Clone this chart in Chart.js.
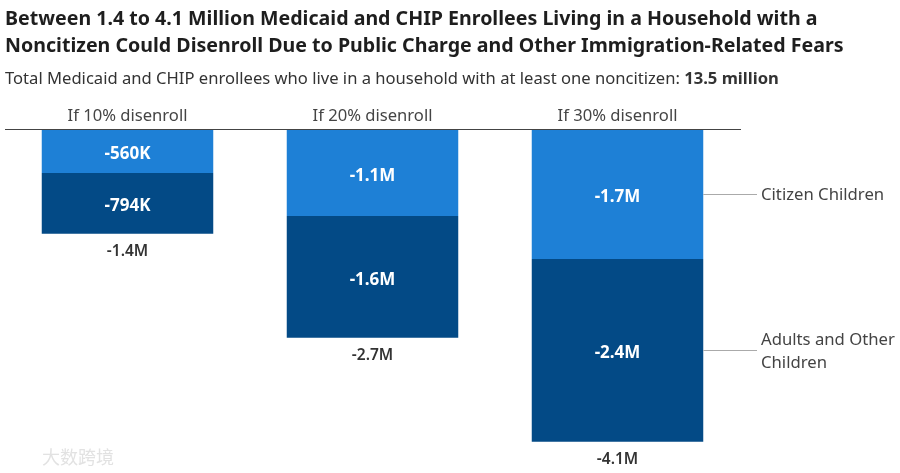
<!DOCTYPE html>
<html>
<head>
<meta charset="utf-8">
<script src="https://cdn.jsdelivr.net/npm/chart.js@4"></script>
<style>
  body { margin: 0; background: #fff; font-family: "Noto Sans", Lato, sans-serif; }
  #wrap { position: relative; width: 900px; height: 473px; }
  #chart { position: absolute; left: 0; top: 0; }
  .title { position: absolute; left: 5px; top: 4px; font-size: 19.6px; font-weight: bold; color: #1e1e1e; line-height: 27px; white-space: nowrap; }
  .sub { position: absolute; left: 5px; top: 66px; font-size: 16.6px; color: #333; white-space: nowrap; }
  .mark { position: absolute; left: 42px; top: 443px; font-family: "Noto Sans CJK SC", sans-serif; font-size: 18px; color: #e2e2e2; }
</style>
</head>
<body>
<div id="wrap">
  <canvas id="chart" width="900" height="473"></canvas>
  <div class="title">Between 1.4 to 4.1 Million Medicaid and CHIP Enrollees Living in a Household with a<br>Noncitizen Could Disenroll Due to Public Charge and Other Immigration-Related Fears</div>
  <div class="sub">Total Medicaid and CHIP enrollees who live in a household with at least one noncitizen: <b>13.5 million</b></div>
  <div class="mark">大数跨境</div>
</div>
<script>
// values in thousands of enrollees
let categories = ['If 10% disenroll', 'If 20% disenroll', 'If 30% disenroll'];
let citizenChildren = [-560, -1120, -1680];
let adultsOther = [-794, -1588, -2382];
let citizenLabels = ['-560K', '-1.1M', '-1.7M'];
let adultsLabels = ['-794K', '-1.6M', '-2.4M'];
let totalLabels = ['-1.4M', '-2.7M', '-4.1M'];
let seriesNames = [['Citizen Children'], ['Adults and Other', 'Children']];

let fontFamily = '"Noto Sans", Lato, sans-serif';
let ctx = document.getElementById('chart');

let labelPlugin = {
	id: 'barLabels',
	afterDatasetsDraw(chart) {
		let c = chart.ctx;
		let top = chart.getDatasetMeta(0);
		let bottom = chart.getDatasetMeta(1);
		c.save();
		c.textAlign = 'center';
		c.textBaseline = 'middle';
		c.fillStyle = '#fff';
		c.font = 'bold 17px ' + fontFamily;
		top.data.forEach((bar, i) => {
			c.fillText(citizenLabels[i], bar.x, (bar.y + bar.base) / 2 + 3);
		});
		bottom.data.forEach((bar, i) => {
			c.fillText(adultsLabels[i], bar.x, (bar.y + bar.base) / 2 + 3);
		});
		c.fillStyle = '#333';
		c.font = '600 15.5px ' + fontFamily;
		bottom.data.forEach((bar, i) => {
			c.fillText(totalLabels[i], bar.x, bar.y + 18);
		});

		// series names on the right, tied to the last bar
		c.textAlign = 'left';
		c.font = '16.7px ' + fontFamily;
		c.fillStyle = '#444';
		c.strokeStyle = '#aaa';
		c.lineWidth = 1;
		[top, bottom].forEach((meta, k) => {
			let bar = meta.data[meta.data.length - 1];
			let midY = Math.round((bar.y + bar.base) / 2) + 0.5;
			let x0 = bar.x + bar.width / 2;
			c.beginPath();
			c.moveTo(x0, midY);
			c.lineTo(757, midY);
			c.stroke();
			let lines = seriesNames[k];
			lines.forEach((t, j) => {
				c.fillText(t, 761, midY + 1 + (j - (lines.length - 1) / 2) * 23);
			});
		});
		c.restore();
	}
};

let barChart = new Chart(ctx, {
	type: 'bar',
	data: {
		labels: categories,
		datasets: [
			{ label: 'Citizen Children', data: citizenChildren, backgroundColor: '#1e80d6' },
			{ label: 'Adults and Other Children', data: adultsOther, backgroundColor: '#034a86' }
		]
	},
	options: {
		responsive: false,
		animation: false,
		layout: { padding: { top: 102, left: 5, right: 160, bottom: 13 } },
		plugins: { legend: { display: false }, tooltip: { enabled: false } },
		datasets: { bar: { categoryPercentage: 1, barPercentage: 0.7 } },
		scales: {
			x: {
				stacked: true,
				position: 'top',
				grid: { display: false, drawTicks: false },
				border: { display: true, color: '#444', width: 1 },
				ticks: { color: '#444', font: { size: 16.6, family: fontFamily }, padding: 4 }
			},
			y: {
				stacked: true,
				display: false,
				min: -4300,
				max: 0
			}
		}
	},
	plugins: [labelPlugin]
});
</script>
</body>
</html>
